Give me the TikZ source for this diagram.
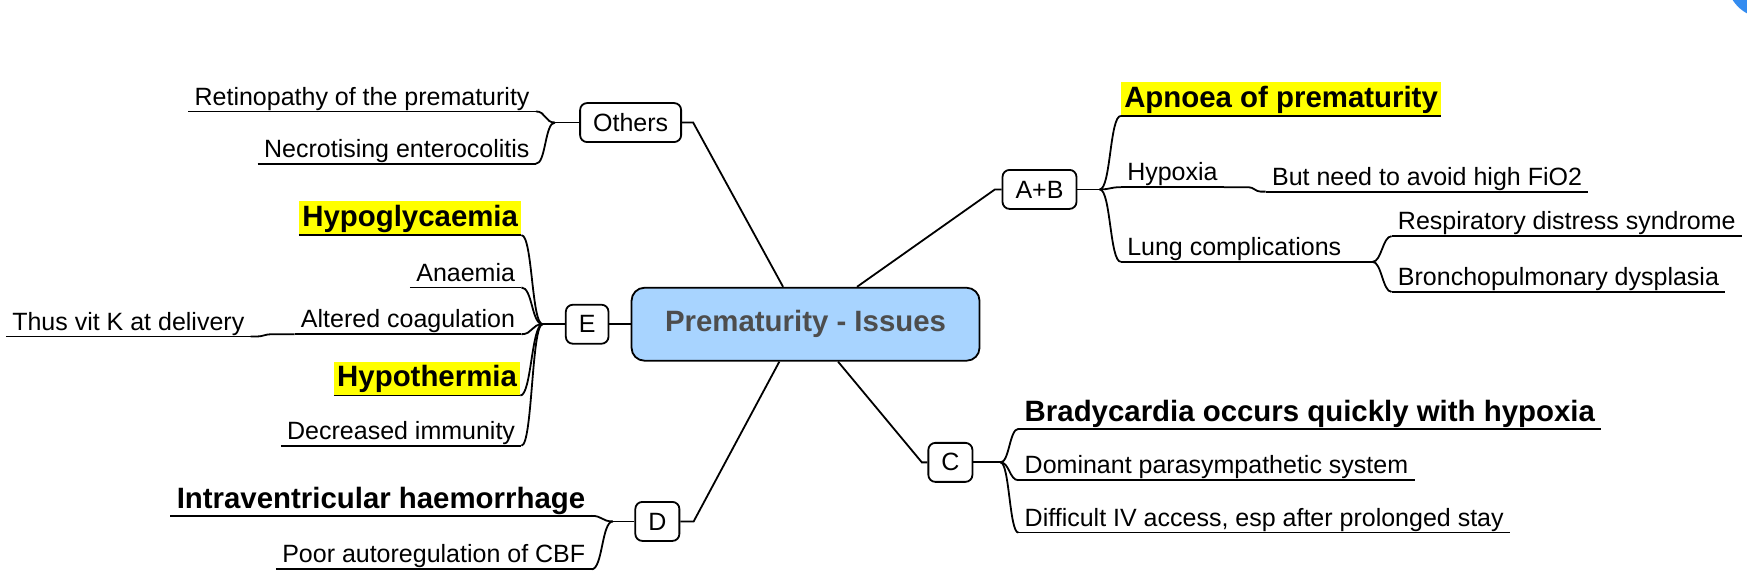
\documentclass[tikz,border=0pt]{standalone}
\usepackage{fontspec}
\setmainfont{Liberation Sans}
\usetikzlibrary{calc}
\definecolor{rootblue}{RGB}{168,212,255}
\definecolor{roottext}{RGB}{77,77,77}
\definecolor{hlyellow}{RGB}{255,255,0}
\definecolor{cornerblue}{RGB}{52,140,240}

\begin{document}
\begin{tikzpicture}[x=0.5571pt,y=-0.5571pt,
  conn/.style={line width=0.9pt},
  root/.style={draw, fill=rootblue, rounded corners=6.5pt, line width=0.9pt,
               minimum width=174pt, minimum height=36.5pt, text=roottext,
               font=\fontsize{14.7}{17}\selectfont\bfseries},
  box/.style={draw, rounded corners=3.5pt, line width=0.9pt, minimum width=20.5pt,
              minimum height=19.5pt, inner xsep=6.5pt, font=\fontsize{12.5}{15}\selectfont},
  leaf/.style={inner xsep=3pt, inner ysep=0.6pt, text depth=2.4pt,
               font=\fontsize{12.5}{15}\selectfont,
               append after command={(\tikzlastnode.south west) edge[conn] (\tikzlastnode.south east)}},
  key/.style={leaf, font=\fontsize{14.7}{17}\selectfont\bfseries, text depth=3pt},
  hl/.style={key, fill=hlyellow, inner xsep=1.5pt, inner ysep=1pt, text height=11.5pt, text depth=3.2pt}
]
\useasboundingbox (0,0) rectangle (1568,522);
\begin{scope}
  \clip (0,0) rectangle (1568,522);
  \fill[cornerblue] (1584,-18) circle[radius=34];
\end{scope}

\node[root] (root)   at (723,291) {Prematurity - Issues};
\node[box]  (others) at (566,110) {Others};
\node[box]  (ab)     at (933,170) {A+B};
\node[box]  (c)      at (853,415) {C};
\node[box]  (d)      at (590,468) {D};
\node[box]  (e)      at (527,291) {E};

\coordinate (jo)    at (498,110);
\coordinate (jab)   at (987,170);
\coordinate (jc)    at (898,415);
\coordinate (jd)    at (550,468);
\coordinate (je)    at (487,291);
\coordinate (jlung) at (1232,235);

\node[leaf, anchor=south east] (retino)    at (481,100) {Retinopathy of the prematurity};
\node[leaf, anchor=south east] (necro)     at (481,147) {Necrotising enterocolitis};
\node[hl,   anchor=south east] (hypogly)   at (468,211) {Hypoglycaemia};
\node[leaf, anchor=south east] (anaemia)   at (468,258) {Anaemia};
\node[leaf, anchor=south east] (coag)      at (468,300) {Altered coagulation};
\node[leaf, anchor=south east] (vitk)      at (225,302) {Thus vit K at delivery};
\node[hl,   anchor=south east] (hypotherm) at (467,355) {Hypothermia};
\node[leaf, anchor=south east] (immun)     at (468,400) {Decreased immunity};
\node[key,  anchor=south east] (ivh)       at (531,463) {Intraventricular haemorrhage};
\node[leaf, anchor=south east] (cbf)       at (531,511) {Poor autoregulation of CBF};

\node[hl,   anchor=south west] (apnoea)   at (1006,104) {Apnoea of prematurity};
\node[leaf, anchor=south west] (hypoxia)  at (1006,168) {Hypoxia};
\node[leaf, anchor=south west] (fio)      at (1136,172) {But need to avoid high FiO2};
\node[leaf, anchor=south west] (lung)     at (1006,235) {Lung complications};
\node[leaf, anchor=south west] (rds)      at (1249,212) {Respiratory distress syndrome};
\node[leaf, anchor=south west] (bpd)      at (1249,262) {Bronchopulmonary dysplasia};
\node[key,  anchor=south west] (brady)    at (914,385) {Bradycardia occurs quickly with hypoxia};
\node[leaf, anchor=south west] (vagal)    at (914,431) {Dominant parasympathetic system};
\node[leaf, anchor=south west] (ivaccess) at (914,478) {Difficult IV access, esp after prolonged stay};

\draw[conn] (root.121) -- ($(others.east)+(10,0)$) -- (others.east);
\draw[conn] (root.36) -- ($(ab.west)+(-6,0)$) -- (ab.west);
\draw[conn] (root.-49) -- ($(c.west)+(-5,0)$) -- (c.west);
\draw[conn] (root.-125) -- ($(d.east)+(12,0)$) -- (d.east);
\draw[conn] (root.west) -- (e.east);

\draw[conn] (others.west) -- (jo);
\draw[conn] (e.west) -- (je);
\draw[conn] (d.west) -- (jd);
\draw[conn] (ab.east) -- (jab);
\draw[conn] (c.east) -- (jc);
\draw[conn] (lung.south east) -- (jlung);

\foreach \n in {retino,necro}
  \draw[conn] (jo) .. controls +(-9,0) and +(9,0) .. (\n.south east);
\foreach \n in {hypogly,anaemia,coag,hypotherm,immun}
  \draw[conn] (je) .. controls +(-10,0) and +(10,0) .. (\n.south east);
\foreach \n in {ivh,cbf}
  \draw[conn] (jd) .. controls +(-10,0) and +(10,0) .. (\n.south east);
\foreach \n in {apnoea,hypoxia,lung}
  \draw[conn] (jab) .. controls +(10,0) and +(-10,0) .. (\n.south west);
\foreach \n in {brady,vagal,ivaccess}
  \draw[conn] (jc) .. controls +(8,0) and +(-8,0) .. (\n.south west);
\foreach \n in {rds,bpd}
  \draw[conn] (jlung) .. controls +(8,0) and +(-8,0) .. (\n.south west);

\draw[conn] (vitk.south east) -- ++(6,0) to[out=0,in=180] ++(12,-2) -- (coag.south west);
\draw[conn] (hypoxia.south east) -- ++(22,0) to[out=0,in=180] ++(11,4) -- (fio.south west);
\end{tikzpicture}
\end{document}
